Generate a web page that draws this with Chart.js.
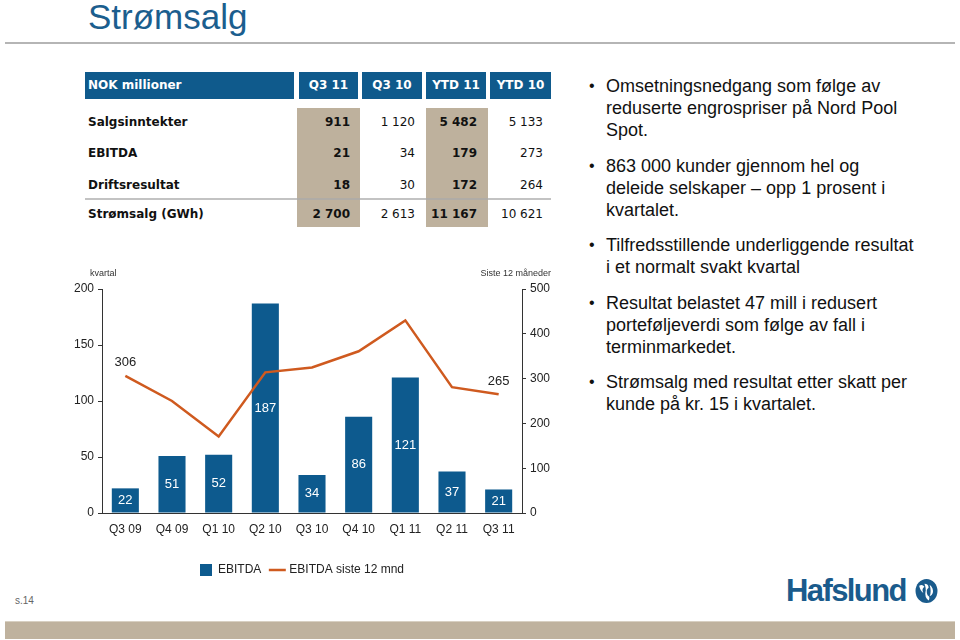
<!DOCTYPE html>
<html>
<head>
<meta charset="utf-8">
<script src="https://cdn.jsdelivr.net/npm/chart.js@4"></script>
<style>
  html, body { margin: 0; padding: 0; background: #fff; }
  body { width: 960px; height: 640px; position: relative; overflow: hidden; font-family: "Liberation Sans", Arial, sans-serif; }
  .abs { position: absolute; }
  #title { left: 88px; top: -3px; font-size: 35px; color: #1b5e8e; }
  #rule { left: 5px; top: 42px; width: 950px; height: 2px; background: #b5b5b5; }
  .tcell { position: absolute; font-family: "DejaVu Sans", Verdana, sans-serif; font-size: 12px; color: #111; line-height: 16px; }
  .thead { background: #0f5a8c; color: #fff; font-weight: bold; height: 27px; line-height: 27px; }
  .bullets { left: 590px; top: 75px; width: 370px; font-size: 18px; color: #111; line-height: 22px; }
  .bullets p { margin: 0 0 13.5px 0; padding-left: 16px; position: relative; }
  .bullets p::before { content: "\2022"; position: absolute; left: -1px; top: 0; font-size: 16px; }
  #chartWrap { left: 52px; top: 262px; width: 500px; height: 324px; }
  #page { left: 15px; top: 595px; font-size: 10px; color: #666; }
  #logo { left: 786px; top: 573px; font-size: 31px; font-weight: bold; color: #1a5b8c; letter-spacing: -1.6px; }
  #band { left: 5px; top: 621px; width: 950px; height: 17px; background: #bfb29e; border-top: 1px solid #d8d0c2; }
</style>
</head>
<body>
<div id="title" class="abs">Strømsalg</div>
<div id="rule" class="abs"></div>
<div id="table"></div>
<div class="abs bullets">
  <p>Omsetningsnedgang som følge av<br>reduserte engrospriser på Nord Pool<br>Spot.</p>
  <p>863 000 kunder gjennom hel og<br>deleide selskaper – opp 1 prosent i<br>kvartalet.</p>
  <p>Tilfredsstillende underliggende resultat<br>i et normalt svakt kvartal</p>
  <p>Resultat belastet 47 mill i redusert<br>porteføljeverdi som følge av fall i<br>terminmarkedet.</p>
  <p>Strømsalg med resultat etter skatt per<br>kunde på kr. 15 i kvartalet.</p>
</div>
<div id="chartWrap" class="abs"><canvas id="ebitdaChart" width="500" height="324"></canvas></div>
<div id="page" class="abs">s.14</div>
<div id="logo" class="abs">Hafslund
  <svg width="23" height="28" viewBox="0 0 22 24" style="vertical-align: -4px; margin-left: 2px;">
    <ellipse cx="11" cy="12" rx="10.5" ry="11.5" fill="#1a5b8c"/>
    <path d="M4 7 q3 -2 5 1 q-3 2 -1 6 q-3 -2 -4 -7z M9 5 q4 0 4 4 q-3 2 -1 7 q3 2 1 5 q-4 -3 -3 -8 q1 -3 -1 -8z M14 6 q4 3 3 8 q-1 3 -3 3 q2 -4 0 -11z" fill="#fff"/>
  </svg>
</div>
<div id="band" class="abs"></div>

<script>
// quarterly EBITDA (NOK mill) and rolling 12 months
const quarters = ['Q3 09', 'Q4 09', 'Q1 10', 'Q2 10', 'Q3 10', 'Q4 10', 'Q1 11', 'Q2 11', 'Q3 11'];
const ebitda = [22, 51, 52, 187, 34, 86, 121, 37, 21];
const ebitda12m = [306, 250, 171, 314, 325, 361, 430, 281, 265];
const leftTicks = [0, 50, 100, 150, 200];
const rightTicks = [0, 100, 200, 300, 400, 500];

// key figures table
const tableCols = ['NOK millioner', 'Q3 11', 'Q3 10', 'YTD 11', 'YTD 10'];
const rowNames = ['Salgsinntekter', 'EBITDA', 'Driftsresultat', 'Strømsalg (GWh)'];
const q311 = ['911', '21', '18', '2 700'];
const q310 = ['1 120', '34', '30', '2 613'];
const ytd11 = ['5 482', '179', '172', '11 167'];
const ytd10 = ['5 133', '273', '264', '10 621'];

function buildTable() {
  const t = document.getElementById('table');
  const colX = [85, 299, 362, 426, 490];
  const colW = [209, 59, 60, 60, 61];
  const numRight = [350, 415, 477, 543];
  const rowY = [122, 153, 185, 214];
  let html = '';
  // highlighted columns
  html += '<div class="abs" style="left:297px;top:108px;width:63px;height:119px;background:#beb19d"></div>';
  html += '<div class="abs" style="left:426px;top:108px;width:62px;height:119px;background:#beb19d"></div>';
  html += '<div class="abs" style="left:85px;top:198px;width:466px;height:2px;background:rgba(170,170,170,0.7)"></div>';
  tableCols.forEach((c, i) => {
    const pad = i === 0 ? 'padding-left:3px;width:' + (colW[i] - 3) + 'px;' : 'text-align:center;width:' + colW[i] + 'px;';
    html += `<div class="tcell thead" style="left:${colX[i]}px;top:72px;${pad}">${c}</div>`;
  });
  const cols = [q311, q310, ytd11, ytd10];
  rowNames.forEach((name, r) => {
    const top = rowY[r] - 8;
    html += `<div class="tcell" style="left:88px;top:${top}px;font-weight:bold">${name}</div>`;
    cols.forEach((col, c) => {
      const bold = c % 2 === 0 ? 'font-weight:bold;' : '';
      html += `<div class="tcell" style="left:${numRight[c] - 80}px;width:80px;text-align:right;top:${top}px;${bold}">${col[r]}</div>`;
    });
  });
  t.innerHTML = html;
}
buildTable();

const labelPlugin = {
  id: 'labelPlugin',
  afterDatasetsDraw(chart) {
    const ctx = chart.ctx;
    ctx.save();
    ctx.font = '13px "Liberation Sans", Arial, sans-serif';
    ctx.textAlign = 'center';
    ctx.textBaseline = 'middle';
    chart.getDatasetMeta(0).data.forEach((bar, i) => {
      ctx.fillStyle = '#ffffff';
      ctx.fillText(ebitda[i], bar.x, (bar.y + bar.base) / 2);
    });
    const pts = chart.getDatasetMeta(1).data;
    [0, pts.length - 1].forEach(i => {
      ctx.fillStyle = '#222';
      ctx.fillText(ebitda12m[i], pts[i].x, pts[i].y - 13);
    });
    ctx.font = '9px "Liberation Sans", Arial, sans-serif';
    ctx.fillStyle = '#333';
    ctx.textAlign = 'left';
    ctx.fillText('kvartal', chart.scales.y.right - 12, chart.chartArea.top - 15);
    ctx.textAlign = 'right';
    ctx.fillText('Siste 12 måneder', chart.scales.y2.right - 1, chart.chartArea.top - 15);
    ctx.restore();
  }
};

const tickFont = { family: '"Liberation Sans", Arial, sans-serif', size: 12 };

new Chart(document.getElementById('ebitdaChart'), {
  type: 'bar',
  data: {
    labels: quarters,
    datasets: [
      {
        label: 'EBITDA',
        data: ebitda,
        backgroundColor: '#0d5a8e',
        barPercentage: 0.58,
        categoryPercentage: 1,
        yAxisID: 'y',
        order: 1
      },
      {
        type: 'line',
        label: 'EBITDA siste 12 mnd',
        data: ebitda12m,
        borderColor: '#cf5a1f',
        backgroundColor: '#cf5a1f',
        borderWidth: 2.5,
        pointRadius: 0,
        tension: 0,
        yAxisID: 'y2',
        order: 0
      }
    ]
  },
  options: {
    responsive: false,
    animation: false,
    layout: { padding: { top: 27, left: 0, right: 0, bottom: 0 } },
    scales: {
      x: {
        grid: { display: false },
        border: { display: true, color: '#333', width: 1 },
        ticks: { font: tickFont, color: '#222', padding: 1, maxRotation: 0 },
        afterFit(scale) { scale.height = 41; }
      },
      y: {
        position: 'left',
        min: 0,
        max: 200,
        afterBuildTicks(scale) { scale.ticks = leftTicks.map(v => ({ value: v })); },
        grid: { display: true, drawOnChartArea: false, tickLength: 4, color: '#333' },
        border: { display: true, color: '#333', width: 1 },
        ticks: { font: tickFont, color: '#222', padding: 4 },
        afterFit(scale) { scale.width = 50; }
      },
      y2: {
        position: 'right',
        min: 0,
        max: 500,
        afterBuildTicks(scale) { scale.ticks = rightTicks.map(v => ({ value: v })); },
        grid: { display: true, drawOnChartArea: false, tickLength: 4, color: '#333' },
        border: { display: true, color: '#333', width: 1 },
        ticks: { font: tickFont, color: '#222', padding: 4 },
        afterFit(scale) { scale.width = 30; }
      }
    },
    plugins: {
      tooltip: { enabled: false },
      legend: {
        position: 'bottom',
        labels: {
          font: tickFont,
          color: '#222',
          usePointStyle: true,
          boxHeight: 12,
          padding: 10,
          generateLabels(chart) {
            const items = Chart.defaults.plugins.legend.labels.generateLabels(chart);
            items.sort((a, b) => a.datasetIndex - b.datasetIndex);
            items.forEach(it => {
              it.pointStyle = it.datasetIndex === 0 ? 'rect' : 'line';
              if (it.datasetIndex === 1) { it.strokeStyle = '#cf5a1f'; it.lineWidth = 2.5; }
              else { it.lineWidth = 0; }
            });
            return items;
          }
        }
      }
    }
  },
  plugins: [labelPlugin]
});
</script>
</body>
</html>
